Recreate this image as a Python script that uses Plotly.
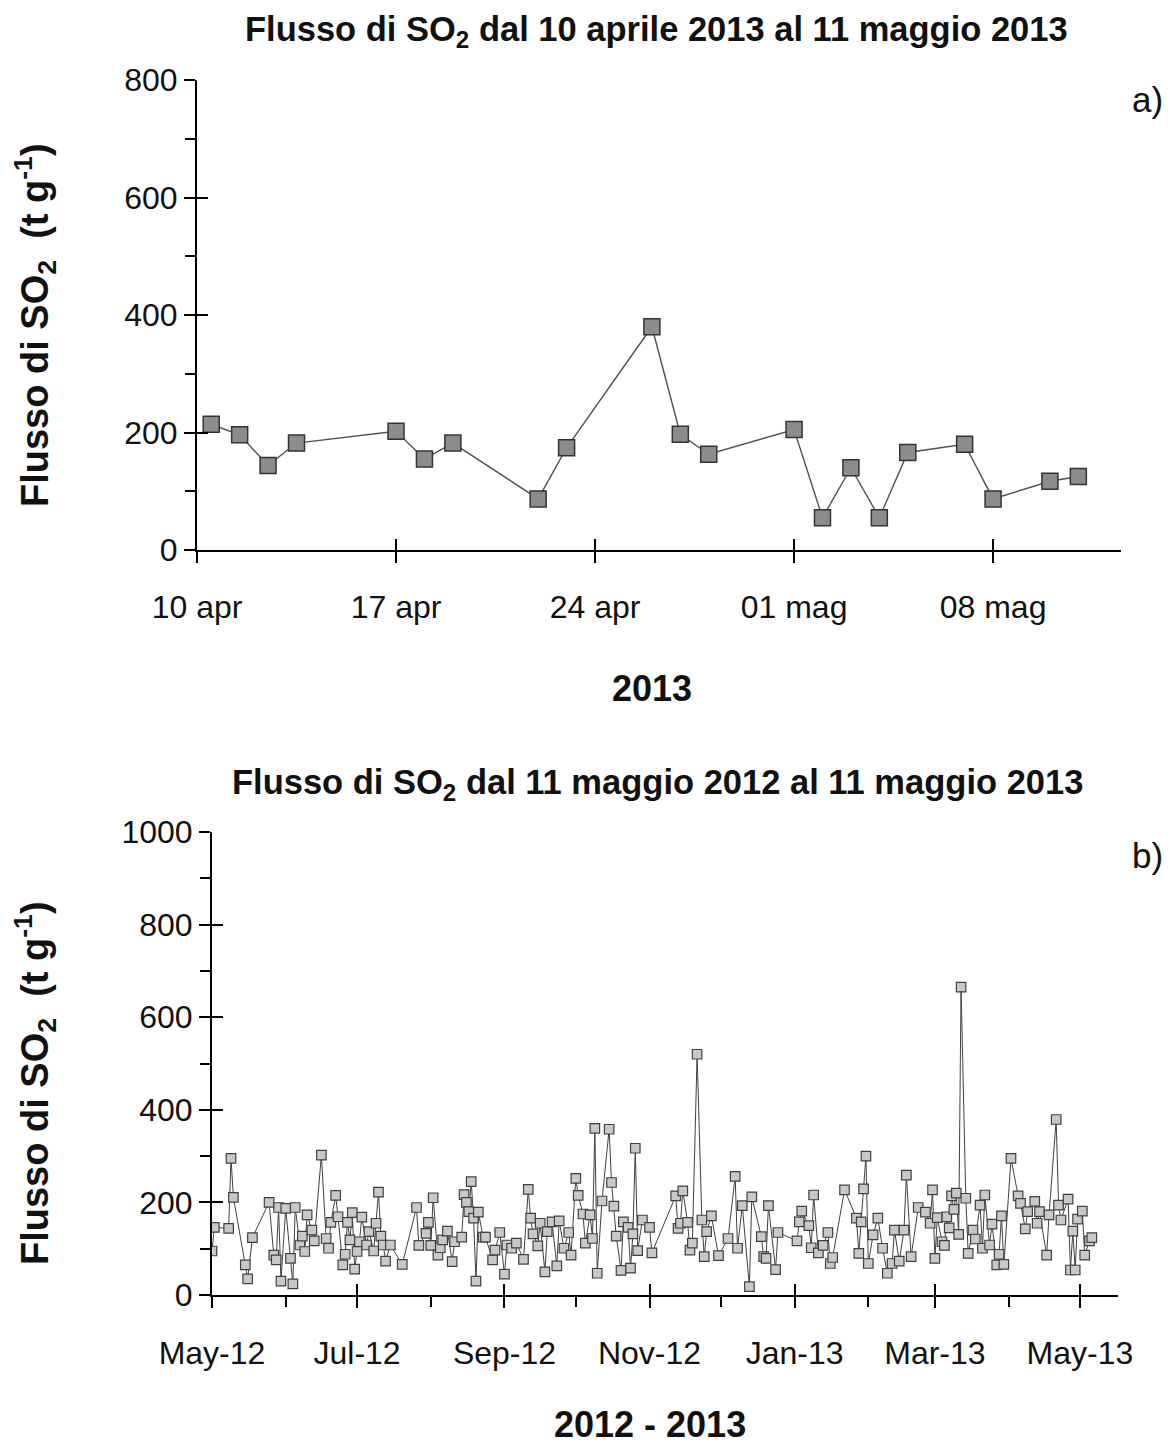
import pandas as pd
import plotly.graph_objects as go

FONT = "Liberation Sans, Arial, sans-serif"
W, H = 1168, 1446

# ---------------- data: panel a ----------------
dates_a = ["2013-04-10 12:00", "2013-04-11 12:00", "2013-04-12 12:00", "2013-04-13 12:00",
           "2013-04-17", "2013-04-18", "2013-04-19", "2013-04-22", "2013-04-23",
           "2013-04-26", "2013-04-27", "2013-04-28", "2013-05-01", "2013-05-02",
           "2013-05-03", "2013-05-04", "2013-05-05", "2013-05-07", "2013-05-08",
           "2013-05-10", "2013-05-11"]
flux_a = [214, 196, 144, 182, 202, 155, 182, 87, 174, 380, 197, 163, 205, 55,
          140, 55, 166, 180, 87, 117, 125]
tickvals_a = ["2013-04-10", "2013-04-17", "2013-04-24", "2013-05-01", "2013-05-08"]
ticktext_a = ["10 apr", "17 apr", "24 apr", "01 mag", "08 mag"]
range_a = ["2013-04-10", "2013-05-12 12:00"]

# ---------------- data: panel b ----------------
start_b = "2012-05-01"
days_b = [0, 1, 7, 8, 9, 14, 15, 17, 24, 26, 27, 28, 29, 31, 33, 34, 35, 37, 38, 39, 40, 42, 43,
          46, 48, 49, 50, 52, 53, 55, 56, 57, 58, 59, 60, 61, 62, 63, 65, 66, 68, 69, 70, 71,
          72, 73, 75, 80, 86, 87, 90, 91, 92, 93, 95, 96, 97, 99, 101, 102, 105, 106, 107,
          108, 109, 110, 111, 112, 114, 115, 118, 119, 121, 123, 124, 126, 128, 131, 133,
          134, 135, 137, 138, 140, 141, 143, 145, 146, 148, 150, 151, 153, 154, 156, 157,
          159, 160, 161, 162, 164, 167, 168, 169, 170, 172, 173, 175, 176, 177, 178, 179,
          181, 184, 185, 195, 196, 197, 198, 200, 201, 202, 204, 206, 207, 208, 210, 213,
          217, 220, 221, 223, 226, 227, 231, 232, 233, 234, 237, 238, 246, 247, 248, 251,
          252, 253, 255, 257, 259, 260, 261, 266, 271, 272, 273, 274, 275, 276, 278, 280,
          282, 284, 286, 287, 289, 291, 292, 294, 297, 300, 302, 303, 304, 305, 307, 308,
          309, 310, 311, 312, 313, 314, 315, 317, 318, 320, 321, 323, 324, 325, 327, 328,
          330, 331, 332, 333, 336, 339, 340, 342, 343, 346, 347, 348, 351, 352, 355, 356,
          357, 360, 361, 362, 363, 364, 366, 367, 369, 370]
flux_b = [95, 146, 144, 295, 211, 65, 35, 124, 200, 86, 76, 189, 30, 187, 79, 24, 189, 108,
          127, 94, 173, 140, 117, 302, 122, 101, 157, 215, 169, 65, 88, 157, 119, 178, 56,
          94, 115, 168, 108, 137, 95, 155, 222, 127, 108, 73, 108, 66, 189, 107, 133, 157,
          107, 210, 86, 102, 119, 138, 72, 115, 125, 217, 200, 180, 245, 166, 30, 179, 125,
          125, 76, 97, 135, 45, 108, 101, 112, 77, 228, 166, 132, 106, 155, 50, 137, 158,
          63, 160, 101, 135, 86, 252, 215, 175, 112, 173, 122, 360, 47, 203, 358, 243, 192,
          127, 53, 158, 146, 58, 132, 317, 96, 162, 146, 91, 214, 144, 155, 225, 157, 97,
          112, 520, 162, 83, 137, 171, 85, 122, 256, 101, 193, 18, 212, 126, 83, 79, 193,
          55, 135, 117, 158, 181, 150, 102, 216, 91, 107, 135, 68, 81, 227, 166, 90, 158,
          229, 300, 68, 130, 166, 101, 47, 68, 140, 73, 140, 259, 83, 189, 179, 155, 227,
          79, 167, 115, 107, 169, 145, 214, 185, 220, 131, 665, 209, 90, 140, 121, 194, 101,
          216, 108, 153, 65, 88, 171, 66, 295, 214, 198, 143, 180, 202, 155, 180, 86, 173,
          379, 194, 162, 207, 54, 138, 54, 164, 181, 86, 117, 124]
dates_b = pd.Timestamp(start_b) + pd.to_timedelta(days_b, unit="D")
tickvals_b = ["2012-05-01", "2012-07-01", "2012-09-01", "2012-11-01", "2013-01-01",
              "2013-03-01", "2013-05-01"]
ticktext_b = ["May-12", "Jul-12", "Sep-12", "Nov-12", "Jan-13", "Mar-13", "May-13"]
minor_b = ["2012-06-01", "2012-08-01", "2012-10-01", "2012-12-01", "2013-02-01",
           "2013-04-01"]
range_b = ["2012-05-01", "2013-05-17"]

# ---------------- layout geometry ----------------
def fx(px):
    return px / W

def fy(py):
    return 1 - py / H

dom_xa = [fx(197), fx(1121)]
dom_ya = [fy(550), fy(80)]
dom_xb = [fx(212), fx(1118)]
dom_yb = [fy(1295), fy(832)]

fig = go.Figure()

fig.add_trace(go.Scatter(
    x=dates_a, y=flux_a, mode="lines+markers", xaxis="x", yaxis="y",
    line=dict(color="#505050", width=1.4),
    marker=dict(symbol="square", size=16, color="#8c8c8c",
                line=dict(color="#333333", width=1.5)),
    showlegend=False, hoverinfo="skip"))

fig.add_trace(go.Scatter(
    x=dates_b, y=flux_b, mode="lines+markers", xaxis="x2", yaxis="y2",
    line=dict(color="#404040", width=1),
    marker=dict(symbol="square", size=9.5, color="#c8c8c8",
                line=dict(color="#404040", width=1.2)),
    showlegend=False, hoverinfo="skip"))

# invisible traces on the overlay axes (inner halves of crossing ticks)
fig.add_trace(go.Scatter(x=[dates_a[0]], y=[0], xaxis="x3", yaxis="y3", mode="markers",
                         marker=dict(opacity=0), showlegend=False, hoverinfo="skip"))
fig.add_trace(go.Scatter(x=[dates_b[0]], y=[0], xaxis="x4", yaxis="y4", mode="markers",
                         marker=dict(opacity=0), showlegend=False, hoverinfo="skip"))

tickfont = dict(family=FONT, size=32, color="#111111")
base = dict(showline=True, linecolor="black", linewidth=2, ticks="outside", ticklen=11,
            tickwidth=2, tickcolor="black", showgrid=False, zeroline=False,
            tickfont=tickfont, fixedrange=True, automargin=False)
inner = dict(showline=False, ticks="inside", ticklen=11, tickwidth=2, tickcolor="black",
             showgrid=False, zeroline=False, showticklabels=False, fixedrange=True,
             automargin=False)

fig.update_layout(
    width=W, height=H, margin=dict(l=0, r=0, t=0, b=0, autoexpand=False),
    paper_bgcolor="white", plot_bgcolor="white",
    xaxis=dict(base, domain=dom_xa, anchor="y", type="date", range=range_a,
               tickmode="array", tickvals=tickvals_a, ticktext=ticktext_a,
               ticklabelstandoff=17),
    yaxis=dict(base, domain=dom_ya, anchor="x", range=[0, 800], tickmode="linear",
               tick0=0, dtick=200, ticklabelstandoff=0,
               minor=dict(ticks="outside", ticklen=10, tickwidth=2, tickcolor="black",
                          dtick=100, tick0=0)),
    xaxis2=dict(base, domain=dom_xb, anchor="y2", type="date", range=range_b,
                tickmode="array", tickvals=tickvals_b, ticktext=ticktext_b,
                ticklabelstandoff=18,
                minor=dict(ticks="outside", ticklen=10, tickwidth=2, tickcolor="black",
                           tickmode="array", tickvals=minor_b)),
    yaxis2=dict(base, domain=dom_yb, anchor="x2", range=[0, 1000], tickmode="linear",
                tick0=0, dtick=200, ticklabelstandoff=0,
                minor=dict(ticks="outside", ticklen=10, tickwidth=2, tickcolor="black",
                           dtick=100, tick0=0)),
    xaxis3=dict(inner, domain=dom_xa, overlaying="x", anchor="y", type="date",
                range=range_a, tickmode="array", tickvals=tickvals_a),
    yaxis3=dict(inner, domain=dom_ya, overlaying="y", anchor="x", range=[0, 800],
                tickmode="linear", tick0=0, dtick=200),
    xaxis4=dict(inner, domain=dom_xb, overlaying="x2", anchor="y2", type="date",
                range=range_b, tickmode="array", tickvals=tickvals_b),
    yaxis4=dict(inner, domain=dom_yb, overlaying="y2", anchor="x2", range=[0, 1000],
                tickmode="linear", tick0=0, dtick=200),
)

ytitle = "<b>Flusso di SO<sub>2</sub>  (t g<sup>-1</sup>)</b>"
ann = [
    dict(text="<b>Flusso di SO<sub>2</sub> dal 10 aprile 2013 al 11 maggio 2013</b>",
         x=fx(656), y=fy(31), size=34.5),
    dict(text=ytitle, x=fx(35), y=fy(325), size=38, angle=-90),
    dict(text="<b>2013</b>", x=fx(652), y=fy(688), size=36),
    dict(text="a)", x=fx(1147), y=fy(100), size=35),
    dict(text="<b>Flusso di SO<sub>2</sub> dal 11 maggio 2012 al 11 maggio 2013</b>",
         x=fx(657), y=fy(784), size=34.5),
    dict(text=ytitle, x=fx(35), y=fy(1083), size=38, angle=-90),
    dict(text="<b>2012 - 2013</b>", x=fx(650), y=fy(1424), size=36),
    dict(text="b)", x=fx(1147), y=fy(855), size=35),
]
for a in ann:
    fig.add_annotation(text=a["text"], x=a["x"], y=a["y"], xref="paper", yref="paper",
                       xanchor="center", yanchor="middle", showarrow=False,
                       textangle=a.get("angle", 0),
                       font=dict(family=FONT, size=a["size"], color="#111111"))

fig.write_html("out.html", config={"displayModeBar": False},
               post_script="document.body.style.margin='0';document.body.style.padding='0';")
